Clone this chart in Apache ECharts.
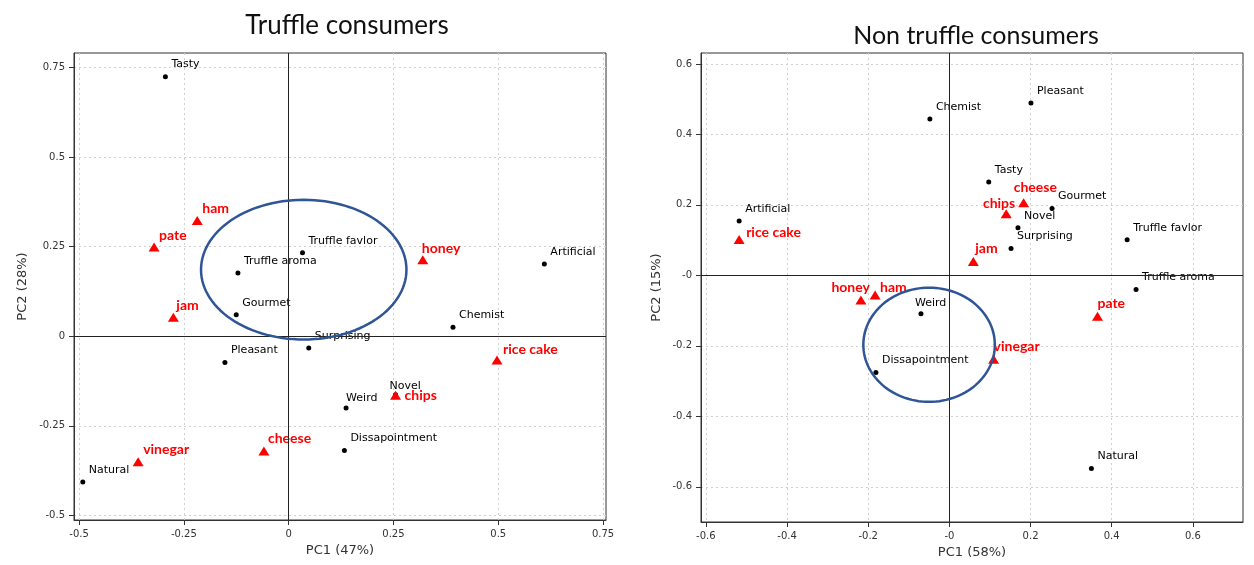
<!DOCTYPE html>
<html>
<head>
<meta charset="utf-8">
<script src="https://cdn.jsdelivr.net/npm/echarts@6/dist/echarts.min.js"></script>
<style>
  html, body { margin: 0; padding: 0; background: #fff; }
  #chart { width: 1254px; height: 565px; }
</style>
</head>
<body>
<div id="chart"></div>
<script>
// ---------- DATA ----------
// Truffle consumers (left)
const L_ATTR_NAMES = ['Tasty', 'Truffle favlor', 'Truffle aroma', 'Artificial', 'Gourmet', 'Chemist', 'Surprising', 'Pleasant', 'Novel', 'Weird', 'Dissapointment', 'Natural'];
const L_ATTR_X = [-0.294, 0.033, -0.121, 0.610, -0.125, 0.392, 0.048, -0.152, 0.255, 0.137, 0.133, -0.491];
const L_ATTR_Y = [0.725, 0.233, 0.177, 0.202, 0.060, 0.025, -0.033, -0.073, -0.163, -0.200, -0.319, -0.407];
const L_PROD_NAMES = ['ham', 'pate', 'honey', 'jam', 'rice cake', 'chips', 'cheese', 'vinegar'];
const L_PROD_X = [-0.218, -0.321, 0.320, -0.275, 0.497, 0.255, -0.059, -0.359];
const L_PROD_Y = [0.323, 0.249, 0.214, 0.053, -0.066, -0.165, -0.320, -0.350];
const L_ELLIPSE = [0.036, 0.186, 0.245, 0.195]; // cx, cy, rx, ry
const L_X_TICKS = [-0.5, -0.25, 0, 0.25, 0.5, 0.75];
const L_X_TICK_LABELS = ['-0.5', '-0.25', '0', '0.25', '0.5', '0.75'];
const L_Y_TICKS = [-0.5, -0.25, 0, 0.25, 0.5, 0.75];
const L_Y_TICK_LABELS = ['-0.5', '-0.25', '0', '0.25', '0.5', '0.75'];

// Non truffle consumers (right)
const R_ATTR_NAMES = ['Pleasant', 'Chemist', 'Tasty', 'Gourmet', 'Artificial', 'Novel', 'Truffle favlor', 'Surprising', 'Truffle aroma', 'Weird', 'Dissapointment', 'Natural'];
const R_ATTR_X = [0.201, -0.048, 0.097, 0.253, -0.518, 0.169, 0.438, 0.152, 0.460, -0.070, -0.181, 0.350];
const R_ATTR_Y = [0.489, 0.444, 0.265, 0.190, 0.154, 0.135, 0.101, 0.076, -0.040, -0.109, -0.276, -0.548];
const R_PROD_NAMES = ['cheese', 'chips', 'rice cake', 'jam', 'honey', 'ham', 'pate', 'vinegar'];
const R_PROD_X = [0.183, 0.140, -0.518, 0.059, -0.218, -0.183, 0.365, 0.109];
const R_PROD_Y = [0.206, 0.175, 0.102, 0.039, -0.070, -0.056, -0.116, -0.238];
const R_ELLIPSE = [-0.050, -0.197, 0.162, 0.162];
const R_X_TICKS = [-0.6, -0.4, -0.2, 0, 0.2, 0.4, 0.6];
const R_X_TICK_LABELS = ['-0.6', '-0.4', '-0.2', '-0', '0.2', '0.4', '0.6'];
const R_Y_TICKS = [-0.6, -0.4, -0.2, 0, 0.2, 0.4, 0.6];
const R_Y_TICK_LABELS = ['-0.6', '-0.4', '-0.2', '-0', '0.2', '0.4', '0.6'];

const TITLES = ['Truffle consumers', 'Non truffle consumers'];
const X_NAMES = ['PC1 (47%)', 'PC1 (58%)'];
const Y_NAMES = ['PC2 (28%)', 'PC2 (15%)'];

// ---------- STYLE ----------
// label placement: [dx to label anchor, dy to label centre, align]
const L_LABEL_POS = {
  'honey': [-1, -11], 'jam': [3, -12], 'cheese': [4, -12], 'rice cake': [6, -10],
  'chips': [9, 0], 'Novel': [-6, -9], 'Weird': [0, -10]
};
const R_LABEL_POS = {
  'cheese': [-10, -15], 'chips': [9, -10, 'right'], 'jam': [2, -13], 'pate': [0, -13],
  'vinegar': [0, -13], 'rice cake': [7, -7], 'honey': [9, -13, 'right'], 'ham': [5, -8],
  'Weird': [-6, -11]
};
const DOT = 5, TRI = [11, 9];
const BLACK_LABEL = { color: '#000', fontFamily: 'DejaVu Sans', fontSize: 11 };
const RED_LABEL = { color: '#ff0000', fontFamily: 'Lato', fontWeight: 'bold', fontSize: 14 };
const ELLIPSE_COLOR = '#2f5597';

function points(names, xs, ys, posMap, halfW, defPos) {
  return names.map((n, i) => {
    const p = posMap[n] || defPos;
    const align = p[2] || 'left';
    return {
      name: n,
      value: [xs[i], ys[i]],
      label: {
        position: 'right', distance: 0, align: align, verticalAlign: 'middle',
        offset: [p[0] - halfW, p[1]]
      }
    };
  });
}

function fmt(ticks, labels) {
  return function (v) {
    for (let i = 0; i < ticks.length; i++) if (Math.abs(ticks[i] - v) < 1e-9) return labels[i];
    return '';
  };
}

function axisBase(ticks, labels, extra) {
  return Object.assign({
    type: 'value',
    axisLine: { show: true, onZero: false, lineStyle: { color: '#333', width: 1 } },
    axisTick: { show: true, length: 5, inside: false, customValues: ticks, lineStyle: { color: '#333' } },
    axisLabel: { customValues: ticks, formatter: fmt(ticks, labels), color: '#333', fontFamily: 'DejaVu Sans', fontSize: 10, margin: 9 },
    splitLine: { show: true, lineStyle: { color: '#d0d0d0', type: [2, 3], width: 1 } },
    nameLocation: 'middle',
    nameTextStyle: { color: '#333', fontFamily: 'DejaVu Sans', fontSize: 13 }
  }, extra);
}

function ellipseSeries(idx, e) {
  return {
    type: 'custom', xAxisIndex: idx, yAxisIndex: idx, z: 10, silent: true,
    data: [[e[0], e[1], e[2], e[3]]],
    renderItem: function (params, api) {
      const c = api.coord([api.value(0), api.value(1)]);
      const s = api.size([api.value(2), api.value(3)]);
      const pts = [];
      const N = 120;
      for (let k = 0; k < N; k++) {
        const t = k / N * Math.PI * 2;
        pts.push([c[0] + s[0] * Math.cos(t), c[1] + s[1] * Math.sin(t)]);
      }
      return {
        type: 'polygon', shape: { points: pts },
        style: { fill: 'none', stroke: ELLIPSE_COLOR, lineWidth: 2.5 }
      };
    }
  };
}

function zeroLines() {
  return {
    silent: true, symbol: 'none', label: { show: false },
    lineStyle: { color: '#222', type: 'solid', width: 1 },
    data: [{ xAxis: 0 }, { yAxis: 0 }]
  };
}

const chart = echarts.init(document.getElementById('chart'), null, { renderer: 'canvas' });

const option = {
  backgroundColor: '#fff',
  animation: false,
  title: [
    { text: TITLES[0], left: 342, top: 8, textAlign: 'center', textStyle: { fontFamily: 'Lato', fontWeight: 'normal', fontSize: 26, color: '#111' } },
    { text: TITLES[1], left: 971, top: 18, textAlign: 'center', textStyle: { fontFamily: 'Lato', fontWeight: 'normal', fontSize: 25, color: '#111' } }
  ],
  grid: [
    { left: 74, top: 53, width: 532, height: 467, show: true, borderColor: '#333', borderWidth: 1, backgroundColor: 'transparent' },
    { left: 701, top: 53, width: 542, height: 469, show: true, borderColor: '#333', borderWidth: 1, backgroundColor: 'transparent' }
  ],
  xAxis: [
    axisBase(L_X_TICKS, L_X_TICK_LABELS, { gridIndex: 0, min: -0.512, max: 0.757, name: X_NAMES[0], nameGap: 24 }),
    axisBase(R_X_TICKS, R_X_TICK_LABELS, { gridIndex: 1, min: -0.612, max: 0.7235, name: X_NAMES[1], nameGap: 23 })
  ],
  yAxis: [
    axisBase(L_Y_TICKS, L_Y_TICK_LABELS, { gridIndex: 0, min: -0.513, max: 0.791, name: Y_NAMES[0], nameGap: 45 }),
    axisBase(R_Y_TICKS, R_Y_TICK_LABELS, { gridIndex: 1, min: -0.700, max: 0.631, name: Y_NAMES[1], nameGap: 38 })
  ],
  series: [
    {
      type: 'scatter', xAxisIndex: 0, yAxisIndex: 0, z: 3,
      symbol: 'circle', symbolSize: DOT, itemStyle: { color: '#000', opacity: 1 },
      label: Object.assign({ show: true, formatter: '{b}' }, BLACK_LABEL),
      data: points(L_ATTR_NAMES, L_ATTR_X, L_ATTR_Y, L_LABEL_POS, DOT / 2, [6, -12]),
      markLine: zeroLines()
    },
    {
      type: 'scatter', xAxisIndex: 0, yAxisIndex: 0, z: 4,
      symbol: 'triangle', symbolSize: TRI, itemStyle: { color: '#ff0000', opacity: 1 },
      label: Object.assign({ show: true, formatter: '{b}' }, RED_LABEL),
      data: points(L_PROD_NAMES, L_PROD_X, L_PROD_Y, L_LABEL_POS, TRI[0] / 2, [5, -12])
    },
    ellipseSeries(0, L_ELLIPSE),
    {
      type: 'scatter', xAxisIndex: 1, yAxisIndex: 1, z: 3,
      symbol: 'circle', symbolSize: DOT, itemStyle: { color: '#000', opacity: 1 },
      label: Object.assign({ show: true, formatter: '{b}' }, BLACK_LABEL),
      data: points(R_ATTR_NAMES, R_ATTR_X, R_ATTR_Y, R_LABEL_POS, DOT / 2, [6, -12]),
      markLine: zeroLines()
    },
    {
      type: 'scatter', xAxisIndex: 1, yAxisIndex: 1, z: 4,
      symbol: 'triangle', symbolSize: TRI, itemStyle: { color: '#ff0000', opacity: 1 },
      label: Object.assign({ show: true, formatter: '{b}' }, RED_LABEL),
      data: points(R_PROD_NAMES, R_PROD_X, R_PROD_Y, R_LABEL_POS, TRI[0] / 2, [5, -12])
    },
    ellipseSeries(1, R_ELLIPSE)
  ]
};
chart.setOption(option);
</script>
</body>
</html>
